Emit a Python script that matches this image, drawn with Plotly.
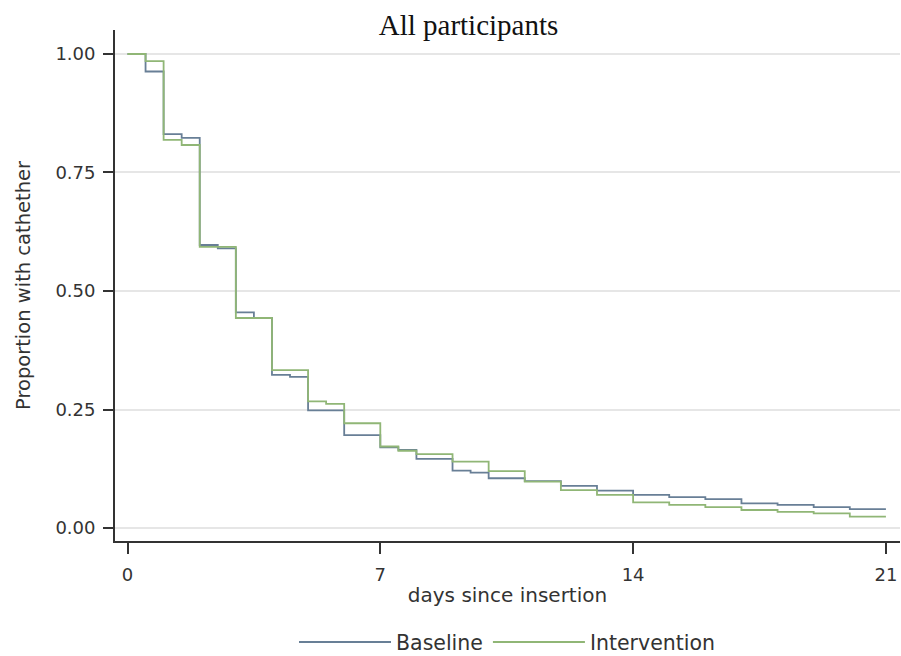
import plotly.graph_objects as go

# Kaplan-Meier style step data (time in days, survival proportion)
baseline_t = [0, 0.5, 1, 1.5, 2, 2.5, 3, 3.5, 4, 4.5, 5, 6, 7, 7.5, 8, 9, 9.5, 10,
              11, 12, 13, 14, 15, 16, 17, 18, 19, 20, 21]
baseline_s = [1.0, 0.963, 0.831, 0.823, 0.597, 0.590, 0.455, 0.443, 0.323, 0.319,
              0.248, 0.196, 0.170, 0.165, 0.146, 0.121, 0.117, 0.105,
              0.099, 0.089, 0.079, 0.070, 0.065, 0.061, 0.052, 0.049, 0.044, 0.040, 0.040]

intervention_t = [0, 0.5, 1, 1.5, 2, 3, 4, 5, 5.5, 6, 7, 7.5, 8, 9, 10,
                  11, 12, 13, 14, 15, 16, 17, 18, 19, 20, 21]
intervention_s = [1.0, 0.985, 0.819, 0.808, 0.593, 0.443, 0.333, 0.267, 0.262, 0.221,
                  0.172, 0.163, 0.156, 0.140, 0.120,
                  0.098, 0.080, 0.070, 0.054, 0.049, 0.044, 0.038, 0.034, 0.031, 0.024, 0.024]

x_ticks = [0, 7, 14, 21]
y_ticks = [0.0, 0.25, 0.5, 0.75, 1.0]
y_tick_labels = ["0.00", "0.25", "0.50", "0.75", "1.00"]

fig = go.Figure()
fig.add_trace(go.Scatter(x=baseline_t, y=baseline_s, mode="lines", name="Baseline",
                         line=dict(shape="hv", color="#687f96", width=1.8)))
fig.add_trace(go.Scatter(x=intervention_t, y=intervention_s, mode="lines", name="Intervention",
                         line=dict(shape="hv", color="#90b676", width=1.8)))

fig.update_layout(
    width=901, height=656,
    margin=dict(l=115, r=1, t=30, b=115, autoexpand=False),
    paper_bgcolor="white", plot_bgcolor="white",
    title=dict(text="All participants", x=0.52, xanchor="center", y=0.962, yanchor="middle",
               font=dict(family="Liberation Serif", size=29, color="#111")),
    font=dict(family="DejaVu Sans", size=18, color="#333"),
    legend=dict(orientation="h", x=0.5, xanchor="center", y=-0.198, yanchor="middle",
                font=dict(size=20.5, color="#333"), itemwidth=92,
                tracegroupgap=0),
    xaxis=dict(range=[-0.346, 21.39], tickvals=x_ticks, ticks="outside", ticklen=11,
               tickcolor="#333", tickwidth=1.5, ticklabelstandoff=5, automargin=False,
               showline=True, linecolor="#333", linewidth=1.8, showgrid=False, zeroline=False,
               title=dict(text="days since insertion", standoff=4, font=dict(size=20)),
               tickfont=dict(size=18)),
    yaxis=dict(range=[-0.0274, 1.0506], tickvals=y_ticks, ticktext=y_tick_labels,
               ticks="outside", ticklen=10, tickcolor="#333", tickwidth=1.5,
               ticklabelstandoff=4, automargin=False,
               showline=True, linecolor="#333", linewidth=1.8,
               showgrid=True, gridcolor="#e6e6e6", gridwidth=1.5, zeroline=False,
               title=dict(text="Proportion with cathether", standoff=20, font=dict(size=19.5)),
               tickfont=dict(size=18)),
)

fig.write_html("out.html")
